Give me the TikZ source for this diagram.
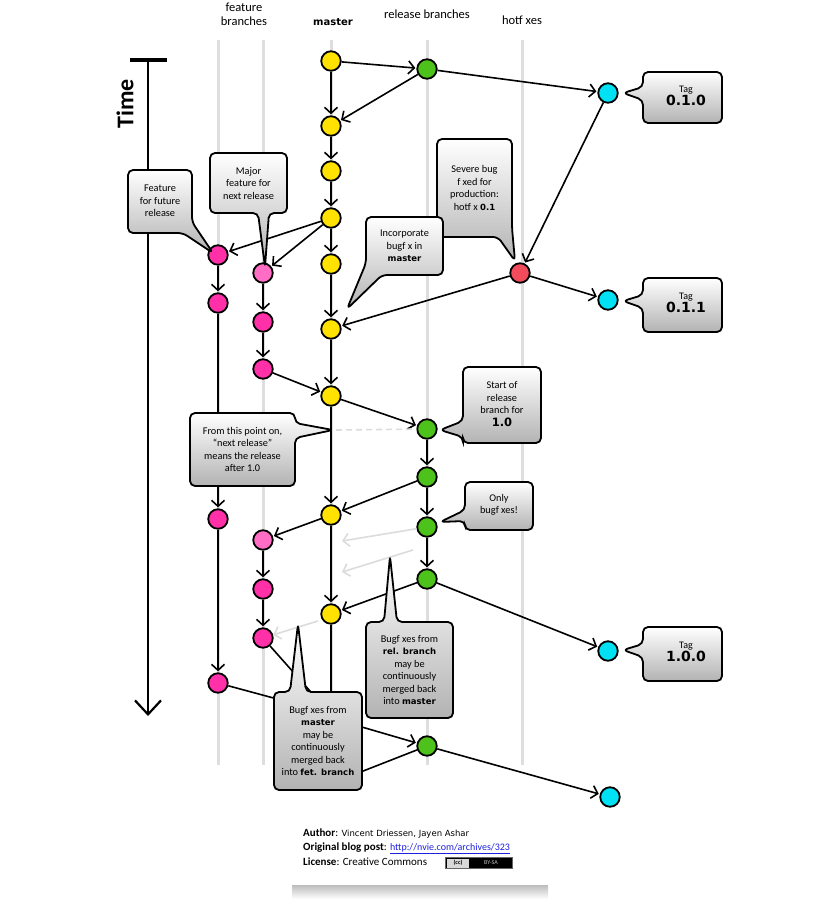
\documentclass[tikz,border=0pt]{standalone}
\usepackage{fontspec}
\setmainfont{Carlito}
\newfontfamily\dv{DejaVu Sans}
\usetikzlibrary{arrows.meta}
\definecolor{cyel}{HTML}{FFE200}
\definecolor{cgrn}{HTML}{4CC21A}
\definecolor{cmag}{HTML}{FF30A8}
\definecolor{cpnk}{HTML}{FF6EC4}
\definecolor{cred}{HTML}{F24B5B}
\definecolor{ccyn}{HTML}{00E2F4}
\definecolor{clane}{HTML}{DEDEDE}
\definecolor{cghost}{HTML}{DCDCDC}
\definecolor{clink}{HTML}{2020E0}
\newcommand\bw[1]{{\dv\bfseries\fontsize{8.5}{12.5}\selectfont #1}}
\begin{document}
\begin{tikzpicture}[x=1pt,y=-1pt,
  commit/.style={circle,draw=black,line width=1.8pt,minimum size=19.5pt,inner sep=0pt},
  arr/.style={draw=black,line width=1.6pt,-{Straight Barb[length=6pt,width=13pt,line width=1.6pt]},shorten >=1pt},
  ghost/.style={draw=cghost,line width=1.6pt,-{Straight Barb[length=6pt,width=13pt,line width=1.6pt]}},
  plain/.style={draw=black,line width=1.6pt},
  lane/.style={draw=clane,line width=3pt},
  bub/.style={draw=black,line width=1.8pt,rounded corners=5pt,top color=white,bottom color=black!30},
  txt/.style={align=center,inner sep=0pt,font=\fontsize{10.3}{12.5}\selectfont},
  hdr/.style={inner sep=0pt,font=\fontsize{12.5}{14}\selectfont},
  cred/.style={anchor=west,inner sep=0pt,font=\fontsize{11}{12}\selectfont},
]
\useasboundingbox (0,0) rectangle (840,908);
\fill[white] (0,0) rectangle (840,908);

% headers
\node[hdr,align=center] (hfeat) at (244,14) {feature\\branches};
\node[inner sep=0pt] (hmaster) at (333,22) {\dv\bfseries\fontsize{10}{12}\selectfont master};
\node[hdr] (hrel) at (427,14) {release branches};
\node[hdr] (hhot) at (522,20) {hotf xes};

% lanes
\foreach \x/\n in {218/la,263/lb,331/lc,427/ld,522/le}{
  \coordinate (\n t) at (\x,40);
  \coordinate (\n b) at (\x,765);
  \draw[lane] (\n t) -- (\n b);
}

% time axis
\coordinate (tcapl) at (130,60);
\coordinate (tcapr) at (167,60);
\coordinate (ttop) at (148,62);
\coordinate (tbot) at (148,716);
\draw[line width=4pt] (tcapl) -- (tcapr);
\draw[line width=2.2pt,-{Straight Barb[length=14pt,width=26pt,line width=2.2pt]}] (ttop) -- (tbot);
\node[rotate=90,inner sep=0pt,font=\bfseries\fontsize{24}{24}\selectfont] (time) at (125,104) {Time};

% commits
\node[commit,fill=cyel] (m1) at (331,61) {};
\node[commit,fill=cyel] (m2) at (331,126) {};
\node[commit,fill=cyel] (m3) at (331,171) {};
\node[commit,fill=cyel] (m4) at (331,218) {};
\node[commit,fill=cyel] (m5) at (331,264) {};
\node[commit,fill=cyel] (m6) at (331,329) {};
\node[commit,fill=cyel] (m7) at (331,396) {};
\node[commit,fill=cyel] (m8) at (331,515) {};
\node[commit,fill=cyel] (m9) at (331,614) {};

\node[commit,fill=cgrn] (r1) at (427,69) {};
\node[commit,fill=cgrn] (r2) at (427,429) {};
\node[commit,fill=cgrn] (r3) at (427,477) {};
\node[commit,fill=cgrn] (r4) at (427,527) {};
\node[commit,fill=cgrn] (r5) at (427,579) {};
\node[commit,fill=cgrn] (r6) at (427,746) {};

\node[commit,fill=cred] (hf) at (520,273) {};

\node[commit,fill=ccyn] (t1) at (608,93) {};
\node[commit,fill=ccyn] (t2) at (608,300) {};
\node[commit,fill=ccyn] (t3) at (608,651) {};
\node[commit,fill=ccyn] (t4) at (610,797) {};

\node[commit,fill=cmag] (f1a) at (218,255) {};
\node[commit,fill=cmag] (f1b) at (218,303) {};
\node[commit,fill=cmag] (f1c) at (218,519) {};
\node[commit,fill=cmag] (f1d) at (218,683) {};

\node[commit,fill=cpnk] (f2a) at (263,273) {};
\node[commit,fill=cmag] (f2b) at (263,322) {};
\node[commit,fill=cmag] (f2c) at (263,369) {};
\node[commit,fill=cpnk] (f2d) at (263,540) {};
\node[commit,fill=cmag] (f2e) at (263,589) {};
\node[commit,fill=cmag] (f2f) at (263,638) {};

% helper coordinates
\coordinate (mend) at (331,718);
\coordinate (fend) at (330,784);
\coordinate (f2end) at (318,700);
\coordinate (f1end) at (292,703);
\coordinate (dl) at (336,430);
\coordinate (g1b) at (342,541);
\coordinate (g2a) at (413,550);
\coordinate (g2b) at (342,572);
\coordinate (g3a) at (318,621);

% connectors
\draw[arr] (m1) -- (r1);
\draw[arr] (m1) -- (m2);
\draw[arr] (r1) -- (m2);
\draw[arr] (r1) -- (t1);
\draw[arr] (m2) -- (m3);
\draw[arr] (m3) -- (m4);
\draw[arr] (m4) -- (m5);
\draw[arr] (m5) -- (m6);
\draw[arr] (m6) -- (m7);
\draw[arr] (m7) -- (m8);
\draw[arr] (m8) -- (m9);
\draw[plain] (m9) -- (mend);
\draw[arr] (m4) -- (f1a);
\draw[arr] (m4) -- (f2a);
\draw[arr] (f1a) -- (f1b);
\draw[arr] (f1b) -- (f1c);
\draw[arr] (f1c) -- (f1d);
\draw[plain] (f1d) -- (f1end);
\draw[arr] (f2a) -- (f2b);
\draw[arr] (f2b) -- (f2c);
\draw[arr] (f2c) -- (m7);
\draw[arr] (t1) -- (hf);
\draw[arr] (hf) -- (t2);
\draw[arr] (hf) -- (m6);
\draw[arr] (m7) -- (r2);
\draw[draw=cghost,line width=1.6pt,dash pattern=on 6pt off 4pt] (dl) -- (r2);
\draw[arr] (r2) -- (r3);
\draw[arr] (r3) -- (r4);
\draw[arr] (r4) -- (r5);
\draw[arr] (r3) -- (m8);
\draw[arr] (m8) -- (f2d);
\draw[arr] (f2d) -- (f2e);
\draw[arr] (f2e) -- (f2f);
\draw[plain] (f2f) -- (f2end);
\draw[arr] (r5) -- (m9);
\draw[arr] (r5) -- (t3);
\draw[arr] (mend) -- (r6);
\draw[plain] (r6) -- (fend);
\draw[arr] (r6) -- (t4);
\draw[ghost] (r4) -- (g1b);
\draw[ghost] (g2a) -- (g2b);
\draw[ghost] (g3a) -- (f2f);

% callouts
\draw[bub] (128,170) -- (192,170) -- (192,222) -- (213,253) -- (183,233) -- (128,233) -- cycle;
\node[txt] (c1) at (160,201) {Feature\\for future\\release};

\draw[bub] (210,153) -- (287,153) -- (287,213) -- (269,213) -- (265,267) -- (258,213) -- (210,213) -- cycle;
\node[txt] (c2) at (248.5,183) {Major\\feature for\\next release};

\draw[bub] (437,139) -- (512,139) -- (512,228) -- (515,261) -- (498,237) -- (437,237) -- cycle;
\node[txt] (c3) at (474.5,188) {Severe bug\\f xed for\\production:\\hotf x \bw{0.1}};

\draw[bub] (366,217) -- (443,217) -- (443,275) -- (382,275) -- (347,309) -- (366,263) -- cycle;
\node[txt] (c4) at (404.5,246) {Incorporate\\bugf x in\\\bw{master}};

\draw[bub] (463,367) -- (541,367) -- (541,443) -- (463,443) -- (463,437) -- (440,430) -- (463,421) -- cycle;
\node[txt] (c5) at (502,404) {Start of\\release\\branch for\\{\dv\bfseries\fontsize{11.5}{13}\selectfont 1.0}};

\draw[bub] (190,413) -- (295,413) -- (295,423) -- (333,430) -- (295,438) -- (295,486) -- (190,486) -- cycle;
\node[txt] (c6) at (242.5,449.5) {From this point on,\\“next release”\\means the release\\after 1.0};

\draw[bub] (465,482) -- (533,482) -- (533,530) -- (465,530) -- (465,521) -- (440,522) -- (465,510) -- cycle;
\node[txt] (c7) at (499,505) {Only\\bugf xes!};

\draw[bub] (366,622) -- (384,622) -- (390,556) -- (397,622) -- (453,622) -- (453,718) -- (366,718) -- cycle;
\node[txt] (c8) at (409.5,670) {Bugf xes from\\\bw{rel. branch}\\may be\\continuously\\merged back\\into \bw{master}};

\draw[bub] (274,692) -- (290,692) -- (298,624) -- (306,692) -- (362,692) -- (362,790) -- (274,790) -- cycle;
\node[txt] (c9) at (318,741) {Bugf xes from\\\bw{master}\\may be\\continuously\\merged back\\into \bw{fet. branch}};

% tag callouts
\draw[bub] (643,72) -- (722,72) -- (722,123) -- (643,123) -- (643,100) -- (623,93) -- (643,87) -- cycle;
\node[txt] (tag1) at (686,96) {{\fontsize{10}{11}\selectfont Tag}\\{\dv\bfseries\fontsize{14}{15}\selectfont 0.1.0}};
\draw[bub] (643,278) -- (722,278) -- (722,332) -- (643,332) -- (643,308) -- (623,301) -- (643,295) -- cycle;
\node[txt] (tag2) at (686,303) {{\fontsize{10}{11}\selectfont Tag}\\{\dv\bfseries\fontsize{14}{15}\selectfont 0.1.1}};
\draw[bub] (643,627) -- (722,627) -- (722,681) -- (643,681) -- (643,657) -- (623,650) -- (643,644) -- cycle;
\node[txt] (tag3) at (686,652) {{\fontsize{10}{11}\selectfont Tag}\\{\dv\bfseries\fontsize{14}{15}\selectfont 1.0.0}};

% credit box
\shade[top color=black!28,bottom color=white] (292,884) rectangle (548,899);
\fill[white] (283,808) rectangle (555,885);
\node[cred] (cr1) at (303,834) {\textbf{Author}: {\dv\fontsize{8.5}{10}\selectfont Vincent Driessen, Jayen Ashar}};
\node[cred] (cr2) at (303,848) {\textbf{Original blog post}: {\fontsize{10}{12}\selectfont\color{clink}\underline{http://nvie.com/archives/323}}};
\node[cred] (cr3) at (303,862) {\textbf{License}: Creative Commons};
\node[draw=black!60,fill=black,minimum width=67pt,minimum height=11pt,inner sep=0pt] (cc) at (478.5,863) {};
\node[fill=black!15,minimum width=22pt,minimum height=9pt,inner sep=0pt,font=\bfseries\fontsize{6}{6}\selectfont] (ccl) at (458,863) {(cc)};
\node[text=black!25,inner sep=0pt,font=\fontsize{6}{6}\selectfont] (ccr) at (491,863) {BY-SA};
\end{tikzpicture}
\end{document}
